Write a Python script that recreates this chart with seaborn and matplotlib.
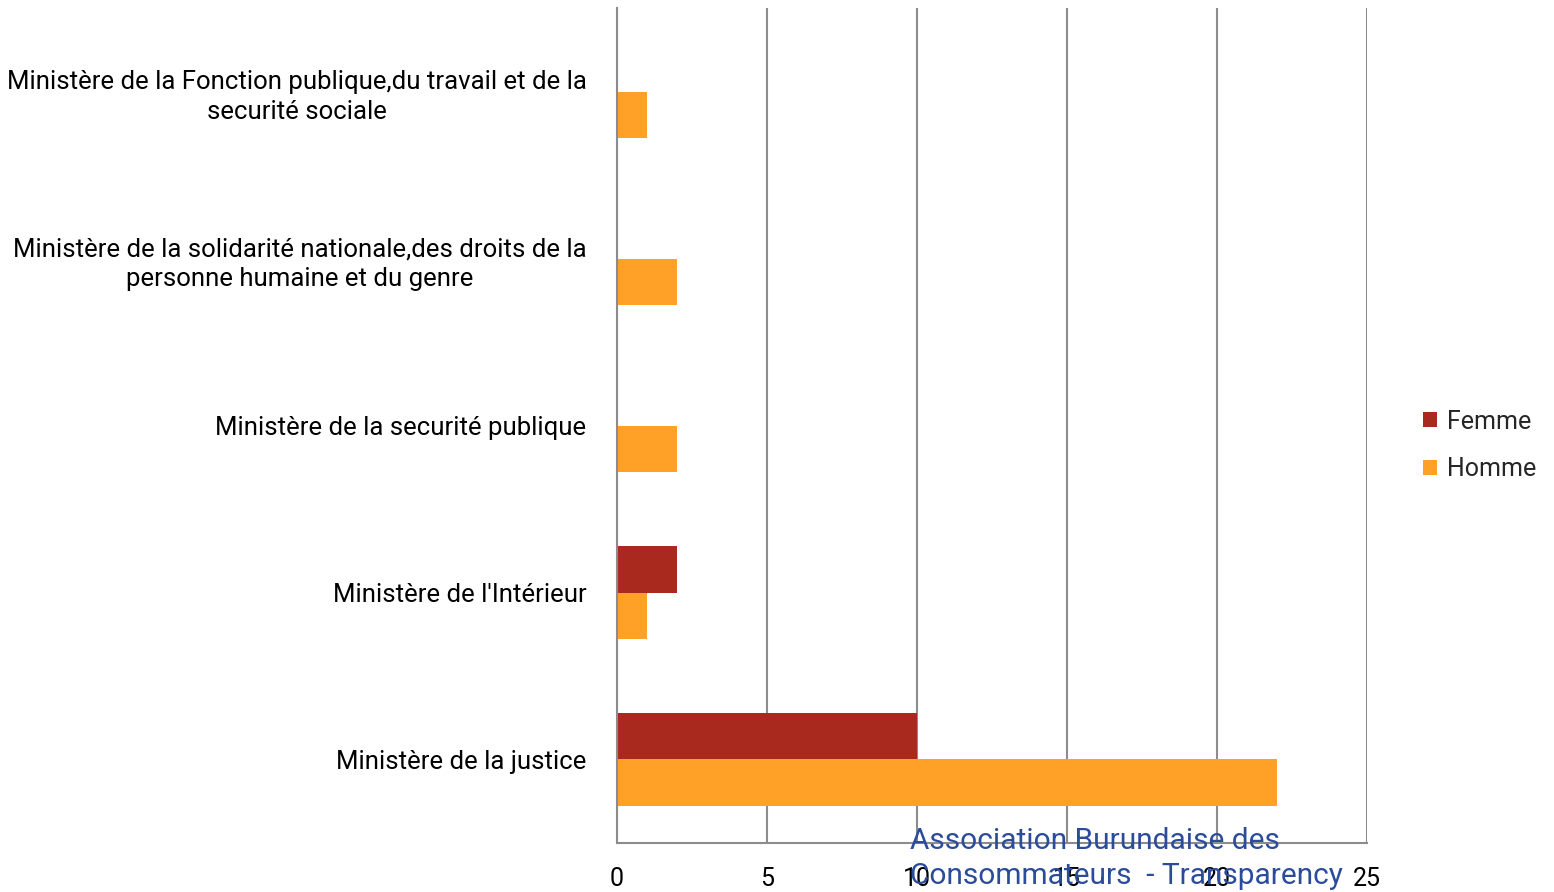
import matplotlib
matplotlib.use("Agg")
import matplotlib.pyplot as plt
import seaborn as sns
import pandas as pd

# Ministries, listed top to bottom
categories = [
    "Ministère de la Fonction publique,du travail et de la\nsecurité sociale",
    "Ministère de la solidarité nationale,des droits de la\npersonne humaine et du genre",
    "Ministère de la securité publique",
    "Ministère de l'Intérieur",
    "Ministère de la justice",
]
femme = [0, 0, 0, 2, 10]
homme = [1, 2, 2, 1, 22]
series = ["Femme", "Homme"]
colors = ["#A9291F", "#FFA126"]
x_ticks = [0, 5, 10, 15, 20, 25]

df = pd.DataFrame({
    "Ministère": categories * 2,
    "Sexe": [series[0]] * len(categories) + [series[1]] * len(categories),
    "Nombre": femme + homme,
})

sns.set_theme(style="white")
plt.rcParams["font.family"] = ["Roboto", "DejaVu Sans"]

fig = plt.figure(figsize=(15.54, 8.92), dpi=100)
ax = fig.add_axes([617 / 1554, 1 - 843 / 892, 750 / 1554, 835 / 892])

sns.barplot(
    data=df, y="Ministère", x="Nombre", hue="Sexe", order=categories,
    hue_order=series, palette=colors, orient="h", width=0.56, gap=0,
    linewidth=0, saturation=1, ax=ax, legend=True,
)

ax.set_xlim(0, 25)
ax.set_ylim(len(categories) - 0.5, -0.5)
ax.set_xticks(x_ticks)
ax.set_xticklabels([str(t) for t in x_ticks])
ax.xaxis.grid(True, color="#8C8C8C", linewidth=1.5)
ax.set_axisbelow(True)
ax.set_xlabel("")
ax.set_ylabel("")

for side in ["top", "right"]:
    ax.spines[side].set_visible(False)
for side in ["left", "bottom"]:
    ax.spines[side].set_color("#8C8C8C")
    ax.spines[side].set_linewidth(1.5)

ax.tick_params(axis="x", length=0, pad=17, labelsize=18, colors="black")
ax.tick_params(axis="y", length=0, pad=22, labelsize=18.5, colors="black")
for lab in ax.get_yticklabels():
    lab.set_multialignment("center")
    lab.set_linespacing(1.3)

handles, labels = ax.get_legend_handles_labels()
ax.legend(
    handles, labels, loc="center left", bbox_to_anchor=(1.045, 0.476),
    frameon=False, fontsize=18, handlelength=0.55, handleheight=0.55,
    handletextpad=0.4, labelspacing=0.95,
)

fig.text(
    910 / 1554, 1 - 827 / 892,
    "Association Burundaise des\nConsommateurs  - Transparency",
    color="#2B4C9B", fontsize=21.5, ha="left", va="top", linespacing=1.3,
)

fig.savefig("out.png", dpi=100)
